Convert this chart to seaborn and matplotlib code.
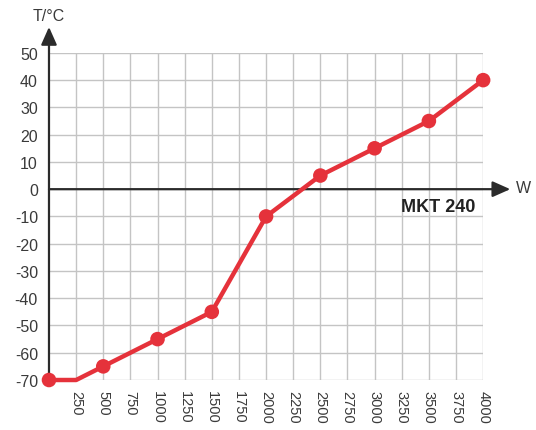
import matplotlib
matplotlib.use("Agg")
import matplotlib.pyplot as plt
import seaborn as sns
import pandas as pd

# cooling/heating curve, power in W vs temperature
watts = [0, 250, 500, 1000, 1500, 2000, 2500, 3000, 3500, 4000]
temps = [-70, -70, -65, -55, -45, -10, 5, 15, 25, 40]
marker_watts = [0, 500, 1000, 1500, 2000, 2500, 3000, 3500, 4000]
marker_temps = [-70, -65, -55, -45, -10, 5, 15, 25, 40]
x_ticks = list(range(250, 4001, 250))
y_ticks = list(range(-70, 51, 10))

sns.set_theme(style="white")
plt.rcParams["font.family"] = ["Liberation Sans", "DejaVu Sans"]

red = "#e5323b"
dark = "#2b2b2b"
grid_c = "#c4c4c4"

fig = plt.figure(figsize=(5.36, 4.31), dpi=100)
ax = fig.add_axes([0.0914, 0.116, 0.81, 0.759])

curve = pd.DataFrame({"W": watts, "T": temps})
pts = pd.DataFrame({"W": marker_watts, "T": marker_temps})

ax.set_xlim(0, 4000)
ax.set_ylim(-70, 50)
ax.set_xticks(x_ticks)
ax.set_yticks(y_ticks)
ax.set_xticklabels([str(v) for v in x_ticks], rotation=-90, fontsize=10.5, color="#3a3a3a")
ax.set_yticklabels([str(v) for v in y_ticks], fontsize=11.5, color="#3a3a3a")
ax.tick_params(axis="both", length=6, width=1, color=grid_c, pad=2)
ax.tick_params(axis="x", length=5)
ax.grid(True, color=grid_c, linewidth=1)
for s in ax.spines.values():
    s.set_visible(False)

sns.lineplot(data=curve, x="W", y="T", color=red, linewidth=3.2, ax=ax,
             clip_on=False, zorder=5)
sns.scatterplot(data=pts, x="W", y="T", color=red, s=110, edgecolor="none",
                ax=ax, clip_on=False, zorder=6)
ax.set_xlabel("")
ax.set_ylabel("")

# axes with arrows
ax.annotate("", xy=(4250, 0), xytext=(0, 0), xycoords="data",
            arrowprops=dict(arrowstyle="-|>,head_length=0.9,head_width=0.4",
                            color=dark, lw=1.6, shrinkA=0, shrinkB=0),
            annotation_clip=False, zorder=4)
ax.annotate("", xy=(0, 59.5), xytext=(0, -70), xycoords="data",
            arrowprops=dict(arrowstyle="-|>,head_length=0.9,head_width=0.4",
                            color=dark, lw=1.6, shrinkA=0, shrinkB=0),
            annotation_clip=False, zorder=4)
ax.text(4300, 0.5, "W", fontsize=11.5, color="#3a3a3a", ha="left", va="center",
        clip_on=False)
ax.text(0, 60.8, "T/°C", fontsize=11.5, color="#3a3a3a", ha="center",
        va="bottom", clip_on=False)
ax.text(3925, -6.5, "MKT 240", fontsize=13, fontweight="bold", color="#222222",
        ha="right", va="center")

fig.savefig("out.png", dpi=100)
